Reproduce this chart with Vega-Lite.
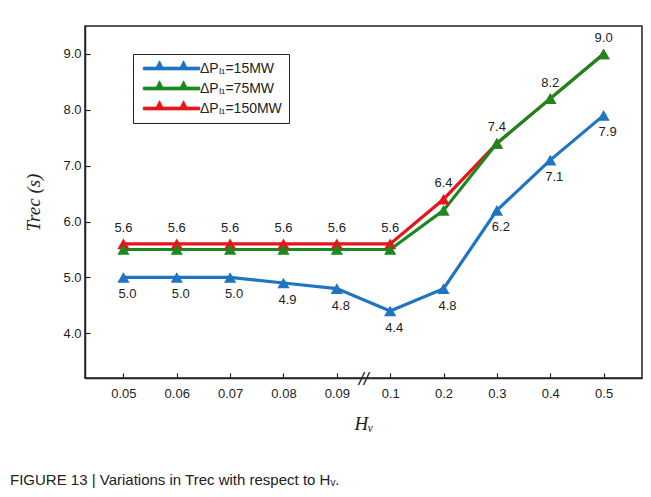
{
  "$schema": "https://vega.github.io/schema/vega-lite/v6.json",
  "width": 557,
  "height": 352,
  "autosize": {"type": "none"},
  "padding": {"left": 85, "top": 26, "right": 9, "bottom": 119},
  "background": "white",
  "config": {
    "view": {"stroke": "#222", "strokeWidth": 1.5},
    "font": "Liberation Sans",
    "axis": {
      "domainColor": "#222", "domainWidth": 1.5, "tickColor": "#222", "tickWidth": 1.2,
      "labelColor": "#222", "labelFont": "Liberation Sans", "labelFontSize": 13,
      "grid": false
    }
  },
  "title": {
    "text": "FIGURE 13 | Variations in Trec with respect to Hᵥ.",
    "orient": "bottom", "anchor": "start", "frame": "group",
    "font": "Liberation Sans", "fontSize": 15, "fontWeight": "normal", "color": "#222",
    "offset": 40, "dx": -75
  },
  "data": {
    "values": [
      {"H": "0.05", "series": "ΔPₗ₁=15MW", "T": 5.0},
      {"H": "0.06", "series": "ΔPₗ₁=15MW", "T": 5.0},
      {"H": "0.07", "series": "ΔPₗ₁=15MW", "T": 5.0},
      {"H": "0.08", "series": "ΔPₗ₁=15MW", "T": 4.9},
      {"H": "0.09", "series": "ΔPₗ₁=15MW", "T": 4.8},
      {"H": "0.1", "series": "ΔPₗ₁=15MW", "T": 4.4},
      {"H": "0.2", "series": "ΔPₗ₁=15MW", "T": 4.8},
      {"H": "0.3", "series": "ΔPₗ₁=15MW", "T": 6.2},
      {"H": "0.4", "series": "ΔPₗ₁=15MW", "T": 7.1},
      {"H": "0.5", "series": "ΔPₗ₁=15MW", "T": 7.9},
      {"H": "0.05", "series": "ΔPₗ₁=150MW", "T": 5.6},
      {"H": "0.06", "series": "ΔPₗ₁=150MW", "T": 5.6},
      {"H": "0.07", "series": "ΔPₗ₁=150MW", "T": 5.6},
      {"H": "0.08", "series": "ΔPₗ₁=150MW", "T": 5.6},
      {"H": "0.09", "series": "ΔPₗ₁=150MW", "T": 5.6},
      {"H": "0.1", "series": "ΔPₗ₁=150MW", "T": 5.6},
      {"H": "0.2", "series": "ΔPₗ₁=150MW", "T": 6.4},
      {"H": "0.3", "series": "ΔPₗ₁=150MW", "T": 7.4},
      {"H": "0.4", "series": "ΔPₗ₁=150MW", "T": 8.2},
      {"H": "0.5", "series": "ΔPₗ₁=150MW", "T": 9.0},
      {"H": "0.05", "series": "ΔPₗ₁=75MW", "T": 5.5},
      {"H": "0.06", "series": "ΔPₗ₁=75MW", "T": 5.5},
      {"H": "0.07", "series": "ΔPₗ₁=75MW", "T": 5.5},
      {"H": "0.08", "series": "ΔPₗ₁=75MW", "T": 5.5},
      {"H": "0.09", "series": "ΔPₗ₁=75MW", "T": 5.5},
      {"H": "0.1", "series": "ΔPₗ₁=75MW", "T": 5.5},
      {"H": "0.2", "series": "ΔPₗ₁=75MW", "T": 6.2},
      {"H": "0.3", "series": "ΔPₗ₁=75MW", "T": 7.4},
      {"H": "0.4", "series": "ΔPₗ₁=75MW", "T": 8.2},
      {"H": "0.5", "series": "ΔPₗ₁=75MW", "T": 9.0}
    ]
  },
  "encoding": {
    "x": {
      "field": "H", "type": "ordinal",
      "sort": ["0.05", "0.06", "0.07", "0.08", "0.09", "0.1", "0.2", "0.3", "0.4", "0.5"],
      "scale": {"type": "point", "padding": 0.72},
      "axis": {
        "labelAngle": 0, "tickSize": -5, "labelPadding": 14,
        "title": "Hᵥ", "titleFont": "Liberation Serif", "titleFontStyle": "italic",
        "titleFontWeight": "normal", "titleFontSize": 19, "titleColor": "#222", "titlePadding": 14
      }
    },
    "y": {
      "field": "T", "type": "quantitative",
      "scale": {"domain": [3.2, 9.5], "nice": false, "zero": false},
      "axis": {
        "values": [4, 5, 6, 7, 8, 9], "format": ".1f", "tickSize": -5, "labelPadding": 9,
        "title": "Trec (s)", "titleFont": "Liberation Serif", "titleFontStyle": "italic",
        "titleFontWeight": "normal", "titleFontSize": 19, "titleColor": "#222", "titlePadding": 19
      }
    },
    "color": {
      "field": "series", "type": "nominal",
      "scale": {
        "domain": ["ΔPₗ₁=15MW", "ΔPₗ₁=75MW", "ΔPₗ₁=150MW"],
        "range": ["#1f74c4", "#178a1e", "#e8141c"]
      },
      "legend": {
        "title": null, "orient": "none", "legendX": 48, "legendY": 28,
        "strokeColor": "#222", "fillColor": "white", "padding": 7,
        "labelFont": "Liberation Sans", "labelFontSize": 14, "labelColor": "#222",
        "symbolType": "M-0.6,-0.2L7.4,-0.2L7.4,0.2L-0.6,0.2Z M1.7,-1.1L2.3,0.1L1.1,0.1Z M5.1,-1.1L5.7,0.1L4.5,0.1Z",
        "symbolSize": 200, "symbolStrokeWidth": 0.8, "rowPadding": 3, "labelOffset": 45,
        "encode": {"symbols": {"update": {"fill": {"scale": "color", "field": "value"}, "stroke": {"scale": "color", "field": "value"}}}}
      }
    },
    "order": {"field": "series"}
  },
  "layer": [
    {
      "mark": {"type": "line", "strokeWidth": 3.2},
      "encoding": {"detail": {"field": "series"}}
    },
    {
      "mark": {"type": "point", "shape": "triangle-up", "filled": true, "size": 150, "opacity": 1}
    },
    {
      "transform": [{"filter": "datum.series === 'ΔPₗ₁=150MW'"}],
      "mark": {"type": "text", "dy": -16, "fontSize": 13, "color": "#222", "font": "Liberation Sans"},
      "encoding": {"text": {"field": "T", "format": ".1f"}, "color": {"value": "#222"}}
    },
    {
      "transform": [{"filter": "datum.series === 'ΔPₗ₁=15MW'"}],
      "mark": {"type": "text", "dy": 17, "dx": 4, "fontSize": 13, "color": "#222", "font": "Liberation Sans"},
      "encoding": {"text": {"field": "T", "format": ".1f"}, "color": {"value": "#222"}}
    },
    {
      "data": {"values": [{"H": "0.09", "T": 3.2, "mark": "//"}]},
      "mark": {"type": "text", "dx": 27, "dy": 2, "fontSize": 18, "fontStyle": "italic", "font": "Liberation Sans", "color": "#222"},
      "encoding": {"text": {"field": "mark"}, "color": {"value": "#222"}}
    }
  ]
}
